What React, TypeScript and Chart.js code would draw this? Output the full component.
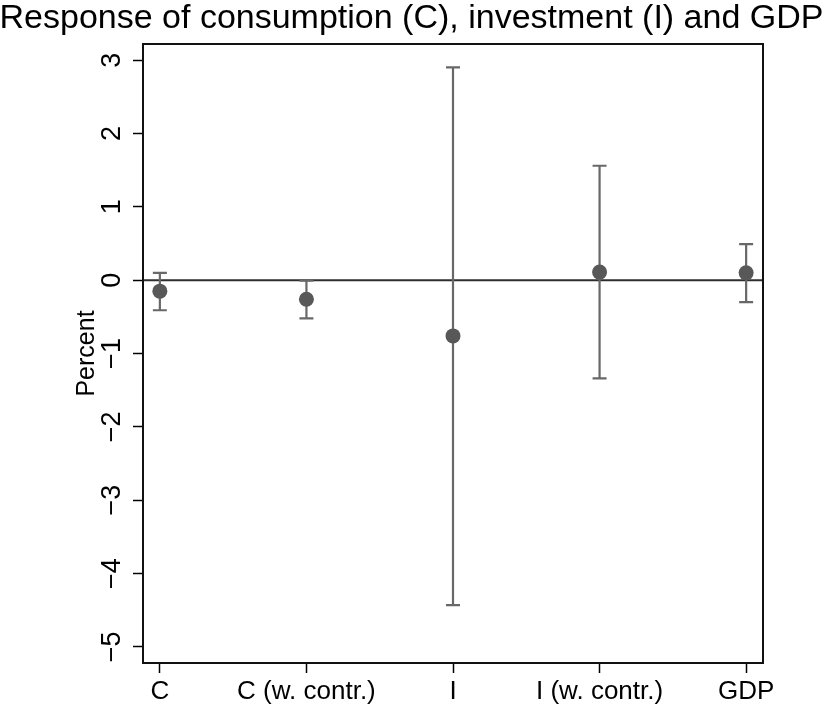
import React, { useEffect, useRef } from "react";
import { Chart, registerables } from "chart.js";

Chart.register(...registerables);

// Point estimates and confidence bounds, in percent
const categories = ["C", "C (w. contr.)", "I", "I (w. contr.)", "GDP"];
const estimates = [-0.15, -0.26, -0.76, 0.11, 0.1];
const lowerBounds = [-0.41, -0.52, -4.43, -1.34, -0.3];
const upperBounds = [0.1, -0.005, 2.9, 1.56, 0.49];
const yTicks = [-5, -4, -3, -2, -1, 0, 1, 2, 3];

const titleText = "Response of consumption (C), investment (I) and GDP";
const yAxisTitle = "Percent";

const FONT = "'Liberation Sans', Arial, Helvetica, sans-serif";
const W = 823;
const H = 708;

const overlayPlugin = {
  id: "errorBarsAndFrame",
  beforeDatasetsDraw(chart: any) {
    const { ctx, chartArea, scales } = chart;
    const xs = scales.x;
    const ys = scales.y;
    ctx.save();
    // reference line at zero
    const y0 = ys.getPixelForValue(0);
    ctx.strokeStyle = "#2e2e2e";
    ctx.lineWidth = 2;
    ctx.beginPath();
    ctx.moveTo(chartArea.left, y0);
    ctx.lineTo(chartArea.right, y0);
    ctx.stroke();
    // confidence intervals with caps
    ctx.strokeStyle = "#686868";
    ctx.lineWidth = 2.2;
    const cap = 7;
    categories.forEach((_, i) => {
      const x = xs.getPixelForValue(i + 1);
      const yl = ys.getPixelForValue(lowerBounds[i]);
      const yh = ys.getPixelForValue(upperBounds[i]);
      ctx.beginPath();
      ctx.moveTo(x, yl);
      ctx.lineTo(x, yh);
      ctx.moveTo(x - cap, yl);
      ctx.lineTo(x + cap, yl);
      ctx.moveTo(x - cap, yh);
      ctx.lineTo(x + cap, yh);
      ctx.stroke();
    });
    ctx.restore();
  },
  afterDraw(chart: any) {
    const { ctx, chartArea, scales } = chart;
    const ys = scales.y;
    ctx.save();
    // plot frame
    ctx.strokeStyle = "#111111";
    ctx.lineWidth = 2;
    ctx.strokeRect(
      chartArea.left,
      chartArea.top,
      chartArea.right - chartArea.left,
      chartArea.bottom - chartArea.top
    );
    // rotated y tick labels
    ctx.fillStyle = "#000000";
    ctx.font = `27px ${FONT}`;
    ctx.textAlign = "center";
    ctx.textBaseline = "alphabetic";
    yTicks.forEach((v) => {
      const y = ys.getPixelForValue(v);
      ctx.save();
      ctx.translate(120, y);
      ctx.rotate(-Math.PI / 2);
      ctx.fillText(v < 0 ? "\u2212" + Math.abs(v) : String(v), 0, 0);
      ctx.restore();
    });
    // y axis title
    ctx.font = `25px ${FONT}`;
    ctx.save();
    ctx.translate(94, (chartArea.top + chartArea.bottom) / 2);
    ctx.rotate(-Math.PI / 2);
    ctx.fillText(yAxisTitle, 0, 0);
    ctx.restore();
    // chart title
    ctx.font = `34px ${FONT}`;
    ctx.textAlign = "center";
    ctx.fillText(titleText, W / 2, 28);
    ctx.restore();
  },
};

export default function App() {
  const canvasRef = useRef<HTMLCanvasElement | null>(null);

  useEffect(() => {
    const canvas = canvasRef.current;
    if (!canvas) return;
    const chart = new Chart(canvas, {
      type: "scatter",
      data: {
        datasets: [
          {
            data: estimates.map((v, i) => ({ x: i + 1, y: v })),
            pointRadius: 7.5,
            pointHoverRadius: 7.5,
            backgroundColor: "#585858",
            borderWidth: 0,
          },
        ],
      },
      options: {
        responsive: false,
        animation: false,
        devicePixelRatio: 1,
        events: [],
        layout: { padding: { top: 44, right: 60, left: 0, bottom: 0 } },
        plugins: {
          legend: { display: false },
          tooltip: { enabled: false },
          title: { display: false },
        },
        scales: {
          x: {
            type: "linear",
            min: 0.885,
            max: 5.115,
            afterBuildTicks: (s: any) => {
              s.ticks = categories.map((_, i) => ({ value: i + 1 }));
            },
            afterFit: (s: any) => {
              s.height = 45;
            },
            ticks: {
              autoSkip: false,
              maxRotation: 0,
              minRotation: 0,
              padding: 3,
              color: "#000000",
              font: { family: FONT, size: 26 },
              callback: (v: any) => categories[Number(v) - 1] ?? "",
            },
            grid: {
              drawOnChartArea: false,
              drawTicks: true,
              tickLength: 10,
              tickColor: "#000000",
              tickWidth: 1.5,
            },
            border: { display: false },
          },
          y: {
            type: "linear",
            min: -5.22,
            max: 3.22,
            afterBuildTicks: (s: any) => {
              s.ticks = yTicks.map((v) => ({ value: v }));
            },
            afterFit: (s: any) => {
              s.width = 143;
            },
            ticks: { display: false },
            grid: {
              drawOnChartArea: false,
              drawTicks: true,
              tickLength: 10,
              tickColor: "#000000",
              tickWidth: 1.5,
            },
            border: { display: false },
          },
        },
      },
      plugins: [overlayPlugin],
    });
    return () => chart.destroy();
  }, []);

  return (
    <div style={{ position: "absolute", left: 0, top: 0, width: W, height: H, background: "#ffffff" }}>
      <canvas ref={canvasRef} width={W} height={H} style={{ width: W, height: H, display: "block" }} />
    </div>
  );
}
